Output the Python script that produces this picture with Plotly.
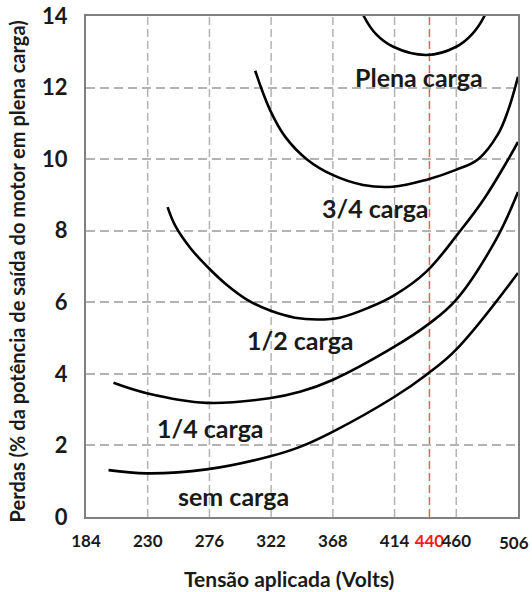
import plotly.graph_objects as go

# ---- data ----
x_ticks = [184, 230, 276, 322, 368, 414, 440, 460, 506]
y_ticks = [0, 2, 4, 6, 8, 10, 12, 14]
highlight_v = 440

sem_v = [200.8, 229.3, 273.8, 320.7, 343.5, 367.8, 414, 437.5, 459.7, 506]
sem_p = [1.31, 1.22, 1.33, 1.69, 1.96, 2.38, 3.36, 3.97, 4.67, 6.82]

quarter_v = [204.5, 229.3, 273.8, 320.7, 343.5, 367.8, 413.9, 437.5, 459.7, 489.4, 506]
quarter_p = [3.75, 3.46, 3.19, 3.32, 3.5, 3.83, 4.76, 5.34, 6.06, 7.74, 9.08]

half_v = [244.8, 250.8, 261.9, 274.3, 287.9, 304.2, 321.2, 339.8, 356.3,
          373.2, 395.4, 414.0, 437.5, 462.0, 480.0, 498.8, 506]
half_p = [8.66, 8.12, 7.51, 7.00, 6.52, 6.07, 5.77, 5.57, 5.52,
          5.57, 5.86, 6.20, 6.85, 7.95, 8.85, 10.0, 10.48]

three_v = [310.1, 321.2, 332.4, 348.5, 367.8, 390.5, 412.7, 437.5, 459.7, 476.3,
           491.1, 498.5, 506]
three_p = [12.47, 11.37, 10.63, 10.0, 9.56, 9.28, 9.23, 9.42, 9.70, 10.0,
           10.7, 11.35, 12.3]

full_v = [388, 391, 400, 413, 438, 460, 472, 481, 484]
full_p = [14.3, 14.0, 13.5, 13.14, 12.91, 13.14, 13.5, 14.0, 14.3]

labels = ["sem carga", "1/4 carga", "1/2 carga", "3/4 carga", "Plena carga"]
label_v = [293.8, 277.1, 344.2, 399.5, 432.5]
label_p = [0.6, 2.48, 4.95, 8.63, 12.29]

series = [(sem_v, sem_p), (quarter_v, quarter_p), (half_v, half_p),
          (three_v, three_p), (full_v, full_p)]

FONT = "Lato"
TXT = "#1a1a1a"
TICKFONT_X = dict(family=FONT, size=17, color=TXT, weight="bold")

fig = go.Figure()
for (vx, py), name in zip(series, labels):
    fig.add_trace(go.Scatter(x=vx, y=py, mode="lines", name=name,
                             line=dict(color="black", width=2.6, shape="spline",
                                       smoothing=1.1),
                             showlegend=False, hoverinfo="skip"))

# vertical gridlines from tick array
for v in x_ticks[1:-1]:
    red = (v == highlight_v)
    fig.add_shape(type="line", xref="x", yref="paper", x0=v, x1=v, y0=0, y1=1,
                  line=dict(color="rgba(255,60,60,0.85)" if red else "#b3b3b3",
                            width=1.5, dash="8px,4px"),
                  layer="below")

for txt, vx, py in zip(labels, label_v, label_p):
    fig.add_annotation(x=vx, y=py, text=txt, showarrow=False,
                       font=dict(family=FONT, size=25, color=TXT, weight="bold"))


def tick_label(v):
    if v == highlight_v:
        return f'<span style="color:#ff1a1a">{v}</span>'
    if v == x_ticks[-1]:
        return ""  # drawn below, right-aligned to stay inside the page
    return str(v)


ticktext = [tick_label(v) for v in x_ticks]

# last x tick label, right-aligned at the page edge (as in the reference)
fig.add_annotation(x=x_ticks[-1], xref="x", y=0, yref="paper", text=str(x_ticks[-1]),
                   showarrow=False, xanchor="right", yanchor="middle",
                   xshift=13, yshift=-25, font=TICKFONT_X)

fig.update_xaxes(range=[x_ticks[0], x_ticks[-1]], tickvals=x_ticks, ticktext=ticktext,
                 tickangle=0, ticklabeloverflow="allow", automargin=False,
                 showgrid=False, zeroline=False, showline=True, mirror=True,
                 linecolor="#808080", linewidth=2, ticks="",
                 ticklabelstandoff=8,
                 tickfont=TICKFONT_X)
fig.update_yaxes(range=[y_ticks[0], y_ticks[-1]], tickvals=y_ticks, automargin=False,
                 showgrid=True, gridcolor="#b3b3b3", gridwidth=1.5, griddash="9px,5px",
                 zeroline=False, showline=True, mirror=True,
                 linecolor="#808080", linewidth=2, ticks="",
                 ticklabelstandoff=12,
                 tickfont=dict(family=FONT, size=22, color=TXT, weight="bold"))

fig.add_annotation(xref="paper", yref="paper", x=0.47, y=-0.122,
                   xanchor="center", yanchor="middle",
                   text="Tensão aplicada (Volts)", showarrow=False,
                   font=dict(family=FONT, size=21, color=TXT, weight="bold"))
fig.add_annotation(xref="paper", yref="paper", x=-0.16, y=0.49, textangle=-90,
                   xanchor="center", yanchor="middle",
                   text="Perdas (% da potência de saída do motor em plena carga)",
                   showarrow=False,
                   font=dict(family=FONT, size=20, color=TXT, weight="bold"))

fig.update_layout(width=532, height=592, margin=dict(l=86, r=14, t=16, b=75),
                  plot_bgcolor="white", paper_bgcolor="white")

fig.write_html("out.html")
